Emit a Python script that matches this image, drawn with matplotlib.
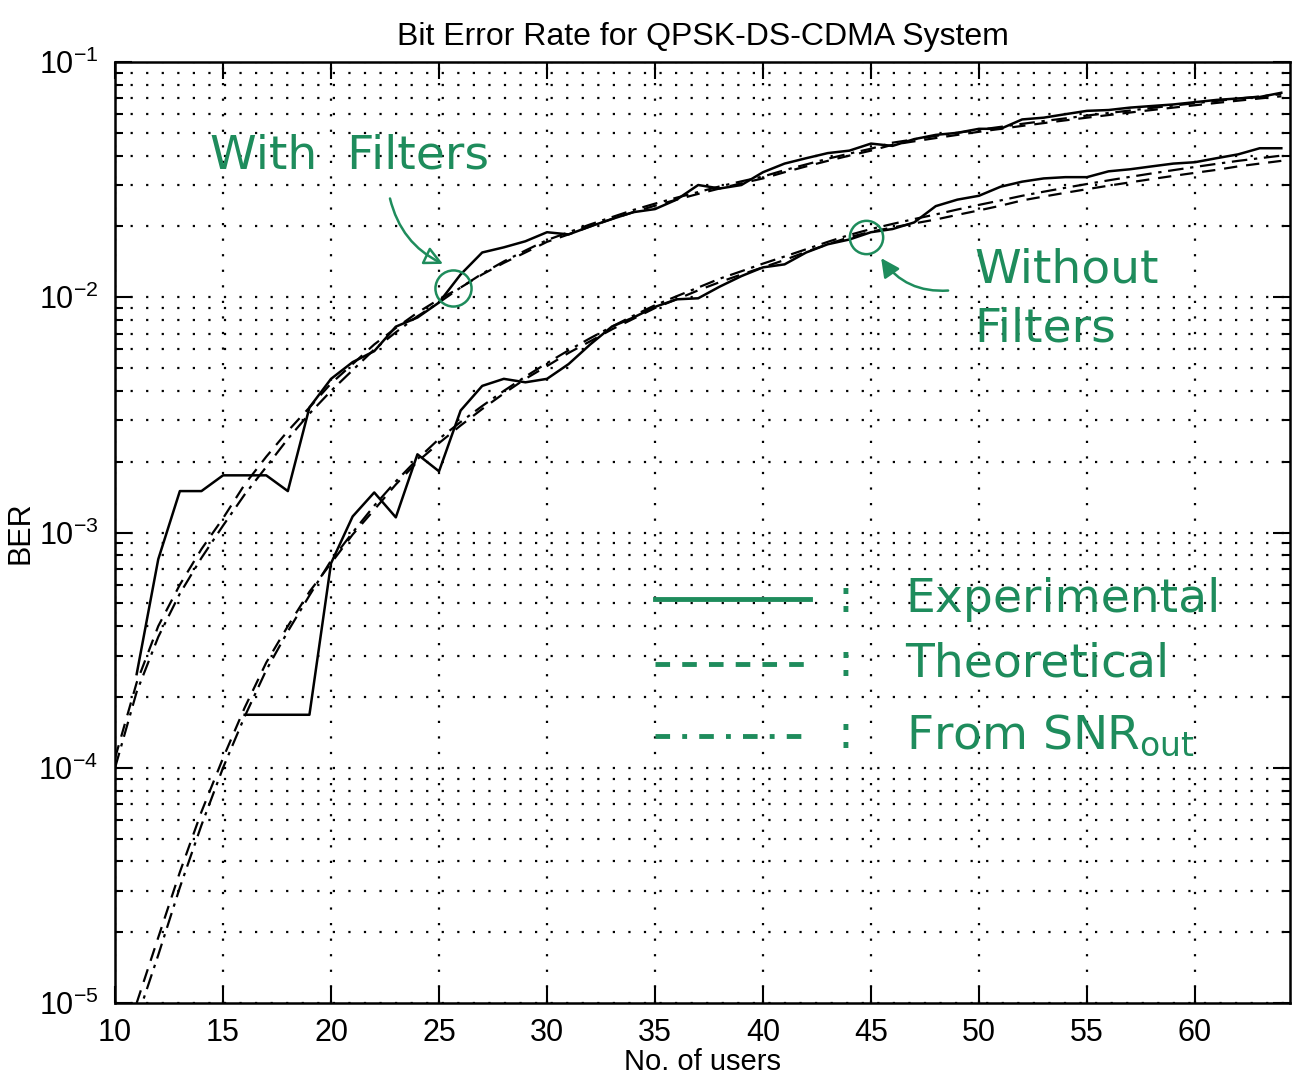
import numpy as np
import matplotlib
matplotlib.use("Agg")
import matplotlib.pyplot as plt
from matplotlib.ticker import LogLocator, FixedLocator

plt.rcParams['font.family'] = ['Liberation Sans', 'DejaVu Sans']
plt.rcParams['mathtext.fontset'] = 'custom'
plt.rcParams['mathtext.rm'] = 'Liberation Sans'

# number of users
users = np.arange(10, 65)

# experimental BER (with filters), from 11 users on
users_with_exp = np.arange(11, 65)
ber_with_exp = [2.5e-4, 7.7e-4, 1.5e-3, 1.5e-3, 1.75e-3, 1.75e-3, 1.75e-3, 1.5e-3, 3.4e-3,
                4.5e-3, 5.3e-3, 5.9e-3, 7.5e-3, 8.2e-3, 9.5e-3, 1.25e-2, 1.55e-2, 1.63e-2,
                1.73e-2, 1.89e-2, 1.85e-2, 2.0e-2, 2.15e-2, 2.3e-2, 2.37e-2, 2.6e-2, 3.0e-2,
                2.9e-2, 3.0e-2, 3.4e-2, 3.7e-2, 3.9e-2, 4.1e-2, 4.2e-2, 4.5e-2, 4.4e-2,
                4.7e-2, 4.9e-2, 5.0e-2, 5.2e-2, 5.2e-2, 5.7e-2, 5.8e-2, 6.0e-2, 6.2e-2,
                6.25e-2, 6.4e-2, 6.5e-2, 6.6e-2, 6.75e-2, 6.9e-2, 7.0e-2, 7.1e-2, 7.4e-2]

# experimental BER (without filters), zero below 16 users
users_without_exp = np.arange(16, 65)
ber_without_exp = [1.68e-4, 1.68e-4, 1.68e-4, 1.68e-4, 7.4e-4, 1.17e-3, 1.48e-3, 1.16e-3,
                   2.15e-3, 1.82e-3, 3.3e-3, 4.2e-3, 4.5e-3, 4.35e-3, 4.5e-3, 5.2e-3, 6.3e-3,
                   7.5e-3, 8.2e-3, 9.1e-3, 9.8e-3, 9.9e-3, 1.11e-2, 1.23e-2, 1.34e-2, 1.38e-2,
                   1.55e-2, 1.68e-2, 1.76e-2, 1.89e-2, 1.95e-2, 2.08e-2, 2.44e-2, 2.6e-2,
                   2.7e-2, 2.95e-2, 3.1e-2, 3.2e-2, 3.24e-2, 3.24e-2, 3.43e-2, 3.5e-2, 3.6e-2,
                   3.7e-2, 3.75e-2, 3.9e-2, 4.05e-2, 4.3e-2, 4.3e-2]

# theoretical BER (with filters), 10..64 users
ber_with_theo = [1.1e-4, 2.3e-4, 4.0e-4, 6.0e-4, 8.5e-4, 1.15e-3, 1.6e-3, 2.1e-3, 2.7e-3,
                 3.4e-3, 4.3e-3, 5.2e-3, 6.3e-3, 7.4e-3, 8.6e-3, 9.8e-3, 1.1e-2, 1.25e-2,
                 1.4e-2, 1.55e-2, 1.72e-2, 1.85e-2, 2.0e-2, 2.15e-2, 2.3e-2, 2.45e-2, 2.6e-2,
                 2.75e-2, 2.9e-2, 3.05e-2, 3.2e-2, 3.4e-2, 3.6e-2, 3.8e-2, 4.0e-2, 4.2e-2,
                 4.45e-2, 4.6e-2, 4.75e-2, 4.9e-2, 5.05e-2, 5.2e-2, 5.35e-2, 5.5e-2, 5.65e-2,
                 5.8e-2, 5.95e-2, 6.1e-2, 6.25e-2, 6.4e-2, 6.55e-2, 6.7e-2, 6.85e-2, 7.0e-2,
                 7.15e-2]

# BER from SNR_out (with filters), 10..64 users
ber_with_snr = [1.0e-4, 2.1e-4, 3.6e-4, 5.5e-4, 7.8e-4, 1.07e-3, 1.45e-3, 1.9e-3, 2.5e-3,
                3.2e-3, 4.0e-3, 4.9e-3, 6.0e-3, 7.1e-3, 8.3e-3, 9.5e-3, 1.1e-2, 1.26e-2,
                1.42e-2, 1.58e-2, 1.75e-2, 1.89e-2, 2.04e-2, 2.19e-2, 2.35e-2, 2.5e-2, 2.65e-2,
                2.8e-2, 2.96e-2, 3.11e-2, 3.26e-2, 3.47e-2, 3.67e-2, 3.88e-2, 4.08e-2, 4.28e-2,
                4.54e-2, 4.69e-2, 4.85e-2, 5.0e-2, 5.15e-2, 5.3e-2, 5.46e-2, 5.61e-2, 5.76e-2,
                5.92e-2, 6.07e-2, 6.22e-2, 6.38e-2, 6.53e-2, 6.68e-2, 6.83e-2, 6.99e-2, 7.14e-2,
                7.3e-2]

# theoretical / SNR_out BER (without filters), 11..64 users
users_without_theo = np.arange(11, 65)
ber_without_theo = [1.0e-5, 1.9e-5, 3.6e-5, 6.5e-5, 1.1e-4, 1.8e-4, 2.8e-4, 4.0e-4, 5.6e-4,
                    7.4e-4, 9.8e-4, 1.25e-3, 1.6e-3, 2.0e-3, 2.4e-3, 2.85e-3, 3.35e-3, 3.9e-3,
                    4.5e-3, 5.1e-3, 5.8e-3, 6.5e-3, 7.3e-3, 8.1e-3, 9.0e-3, 9.8e-3, 1.07e-2,
                    1.16e-2, 1.25e-2, 1.34e-2, 1.44e-2, 1.56e-2, 1.68e-2, 1.8e-2, 1.9e-2,
                    1.98e-2, 2.06e-2, 2.14e-2, 2.24e-2, 2.34e-2, 2.45e-2, 2.58e-2, 2.68e-2,
                    2.78e-2, 2.88e-2, 2.98e-2, 3.08e-2, 3.18e-2, 3.28e-2, 3.38e-2, 3.48e-2,
                    3.6e-2, 3.7e-2, 3.8e-2]
ber_without_snr = [8.5e-6, 1.6e-5, 3.1e-5, 5.7e-5, 1.0e-4, 1.65e-4, 2.6e-4, 3.8e-4, 5.4e-4,
                   7.6e-4, 1.0e-3, 1.3e-3, 1.65e-3, 2.05e-3, 2.5e-3, 2.95e-3, 3.45e-3, 4.0e-3,
                   4.6e-3, 5.25e-3, 5.95e-3, 6.7e-3, 7.5e-3, 8.35e-3, 9.25e-3, 1.01e-2, 1.1e-2,
                   1.2e-2, 1.29e-2, 1.39e-2, 1.49e-2, 1.6e-2, 1.72e-2, 1.84e-2, 1.95e-2,
                   2.05e-2, 2.15e-2, 2.25e-2, 2.36e-2, 2.47e-2, 2.58e-2, 2.7e-2, 2.81e-2,
                   2.92e-2, 3.03e-2, 3.14e-2, 3.25e-2, 3.36e-2, 3.47e-2, 3.58e-2, 3.69e-2,
                   3.8e-2, 3.9e-2, 4.0e-2]

green = '#1e8c5c'
dash = (0, (6, 4))
dashdot = (0, (7, 3, 1.5, 3))

fig = plt.figure(figsize=(13.12, 10.84), dpi=100)
ax = fig.add_axes([0.0877, 0.0747, 0.8955, 0.8681])

# curves
ax.semilogy(users_with_exp, ber_with_exp, color='black', lw=1.8)
ax.semilogy(users_without_exp, ber_without_exp, color='black', lw=1.8)
ax.semilogy(users, ber_with_theo, color='black', lw=1.6, linestyle=dash)
ax.semilogy(users, ber_with_snr, color='black', lw=1.6, linestyle=dashdot)
ax.semilogy(users_without_theo, ber_without_theo, color='black', lw=1.6, linestyle=dash)
ax.semilogy(users_without_theo, ber_without_snr, color='black', lw=1.6, linestyle=dashdot)

ax.set_xlim(10, 64.4)
ax.set_ylim(1e-5, 1e-1)
ax.xaxis.set_major_locator(FixedLocator(np.arange(10, 61, 5)))
ax.yaxis.set_major_locator(LogLocator(base=10, numticks=10))
ax.yaxis.set_minor_locator(LogLocator(base=10, subs=np.arange(2, 10), numticks=20))

ax.grid(True, which='major', axis='both', color='black', linestyle=(0, (1, 6)), lw=1.6)
ax.grid(True, which='minor', axis='y', color='black', linestyle=(0, (1, 6)), lw=1.6)
ax.tick_params(which='both', direction='in', top=True, right=True, labelsize=22, width=1.5)
ax.tick_params(which='major', length=12)
ax.tick_params(which='minor', length=6)
ax.tick_params(axis='x', pad=11)
ax.tick_params(axis='y', pad=12)
for s in ax.spines.values():
    s.set_linewidth(1.8)

ax.set_title('Bit Error Rate for QPSK-DS-CDMA System', fontsize=23, pad=12)
ax.set_xlabel('No. of users', fontsize=21, labelpad=0)
ax.set_ylabel('BER', fontsize=22, labelpad=2)

# hand-drawn annotations
hand = dict(color=green, fontsize=34, family=['DejaVu Sans'])
ax.text(14.4, 4.0e-2, 'With  Filters', va='center', ha='left', **hand)
ax.text(49.8, 1.3e-2, 'Without', va='center', ha='left', **hand)
ax.text(49.8, 7.3e-3, 'Filters', va='center', ha='left', **hand)
ax.plot([25.65], [1.1e-2], marker='o', ms=26, mfc='none', mec=green, mew=1.8)
ax.plot([44.77], [1.8e-2], marker='o', ms=24, mfc='none', mec=green, mew=1.8)
ax.annotate('', xy=(25.3, 1.37e-2), xytext=(22.7, 2.7e-2),
            arrowprops=dict(arrowstyle='-|>', color=green, lw=1.8, mutation_scale=28,
                            fill=False, connectionstyle='arc3,rad=0.25'))
ax.annotate('', xy=(45.4, 1.5e-2), xytext=(48.7, 1.07e-2),
            arrowprops=dict(arrowstyle='-|>', color=green, lw=1.8, mutation_scale=28,
                            connectionstyle='arc3,rad=-0.3'))

# hand-drawn legend
ax.plot([35.0, 42.2], [5.2e-4, 5.2e-4], color=green, lw=3.5)
ax.plot([35.0, 42.2], [2.77e-4, 2.77e-4], color=green, lw=3.5, linestyle=(0, (3, 2.5)))
ax.plot([35.0, 42.2], [1.37e-4, 1.37e-4], color=green, lw=3.5, linestyle=(0, (3, 2.5, 1, 2.5)))
leg_y = [5.2e-4, 2.77e-4, 1.37e-4]
leg_txt = ['Experimental', 'Theoretical', r'From SNR$_{\mathregular{out}}$']
for yy, tt in zip(leg_y, leg_txt):
    ax.text(43.8, yy, ':', va='center', ha='center', **hand)
    ax.text(46.6, yy, tt, va='center', ha='left', **hand)

fig.savefig('out.png', dpi=100)
